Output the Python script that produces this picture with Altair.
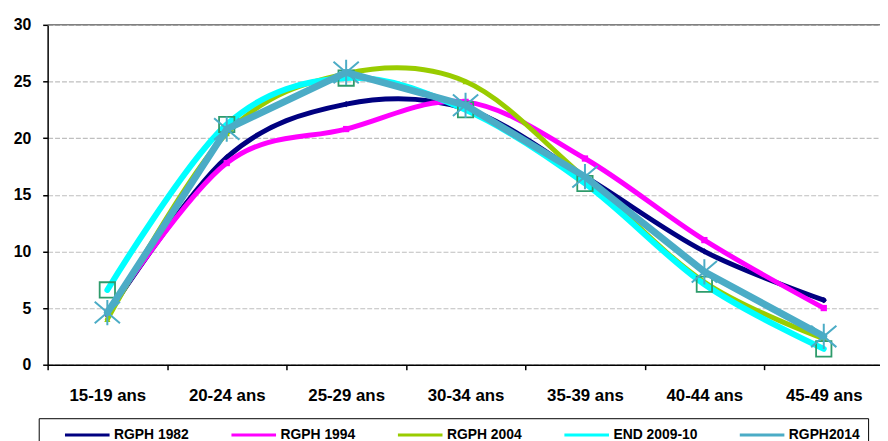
import altair as alt
import pandas as pd

categories = ["15-19 ans", "20-24 ans", "25-29 ans", "30-34 ans", "35-39 ans", "40-44 ans", "45-49 ans"]
series_names = ["RGPH 1982", "RGPH 1994", "RGPH 2004", "END 2009-10", "RGPH2014"]
rgph_1982 = [4.4, 18.3, 23.0, 22.6, 16.6, 10.0, 5.7]
rgph_1994 = [4.6, 17.8, 20.8, 23.2, 18.2, 11.0, 5.0]
rgph_2004 = [4.0, 20.4, 25.7, 25.0, 16.5, 7.3, 2.3]
end_2009 = [6.6, 21.2, 25.3, 22.5, 16.0, 7.1, 1.4]
rgph_2014 = [4.6, 20.8, 25.8, 22.9, 16.6, 8.2, 2.5]
series_values = [rgph_1982, rgph_1994, rgph_2004, end_2009, rgph_2014]
colors = ["#000080", "#FF00FF", "#99CC00", "#00FFFF", "#4BACC6"]
y_ticks = [0, 5, 10, 15, 20, 25, 30]

rows = []
for name, vals in zip(series_names, series_values):
    for c, v in zip(categories, vals):
        rows.append({"cat": c, "series": name, "value": v})
df = pd.DataFrame(rows)
top_df = pd.DataFrame({"value": [30]})

FONT = "Liberation Sans"

X = alt.X(
    "cat:N",
    sort=categories,
    scale=alt.Scale(type="band", domain=categories, range=[0, 843.5], paddingInner=0, paddingOuter=0),
    axis=alt.Axis(
        title=None, labelAngle=0, labelFont=FONT, labelFontSize=17, labelFontWeight="bold",
        labelColor="black", tickBand="extent", tickColor="black", tickSize=5, tickWidth=1.5,
        domainColor="black", domainWidth=1.5, labelPadding=18, grid=False,
    ),
)
Y = alt.Y(
    "value:Q",
    scale=alt.Scale(domain=[0, 30], nice=False, zero=True),
    axis=alt.Axis(
        title=None, values=y_ticks, labelFont=FONT, labelFontSize=16, labelFontWeight="bold",
        labelColor="black", tickColor="black", tickSize=5, tickWidth=1.5, domainColor="black",
        domainWidth=1.5, labelPadding=12, grid=True, gridColor="#BFBFBF", gridDash=[5, 2],
        gridWidth=1.2,
    ),
)
C = alt.Color(
    "series:N",
    scale=alt.Scale(domain=series_names, range=colors),
    legend=alt.Legend(
        title=None, orient="none", legendX=-9, legendY=397, direction="horizontal",
        symbolType="M-3,0H3", symbolSize=225, symbolStrokeWidth=3, labelFont=FONT,
        labelFontSize=14, labelFontWeight="bold", labelColor="black", strokeColor="black",
        fillColor="white", padding=8, columnPadding=24, labelOffset=18, symbolOffset=32,
    ),
)

base = alt.Chart(df).encode(x=X, y=Y, color=C)

top_rule = alt.Chart(top_df).mark_rule(color="#808080", strokeWidth=1.5).encode(y=Y)

layers = [top_rule]
widths = [5, 5, 5, 6, 7]
small_shapes = ["diamond", "square", "triangle-up"]
for i, name in enumerate(series_names):
    sub = base.transform_filter(alt.datum.series == name)
    if name == "RGPH2014":
        layers.append(sub.mark_line(interpolate="linear", strokeWidth=widths[i], strokeCap="round", strokeJoin="round"))
    else:
        layers.append(sub.mark_line(interpolate="cardinal", tension=0, strokeWidth=widths[i], strokeCap="round", strokeJoin="round"))
    if i < 3:
        layers.append(sub.mark_point(shape=small_shapes[i], filled=True, size=40, opacity=1))
    elif name == "END 2009-10":
        layers.append(sub.mark_point(shape="square", filled=False, size=240, stroke="#2E9B6B", strokeWidth=1.8, opacity=1))
    else:
        layers.append(sub.mark_point(shape="M-1,-0.85L1,0.85M-1,0.85L1,-0.85M0,-1L0,1", filled=False, size=650, strokeWidth=2, opacity=1))

chart = alt.layer(*layers).properties(
    width=840,
    height=343,
    autosize=alt.AutoSizeParams(type="none"),
    padding={"left": 40, "top": 15, "right": 0, "bottom": 75},
).configure_view(stroke=None)

chart.save("out.html", embed_options={"renderer": "svg", "actions": False})
